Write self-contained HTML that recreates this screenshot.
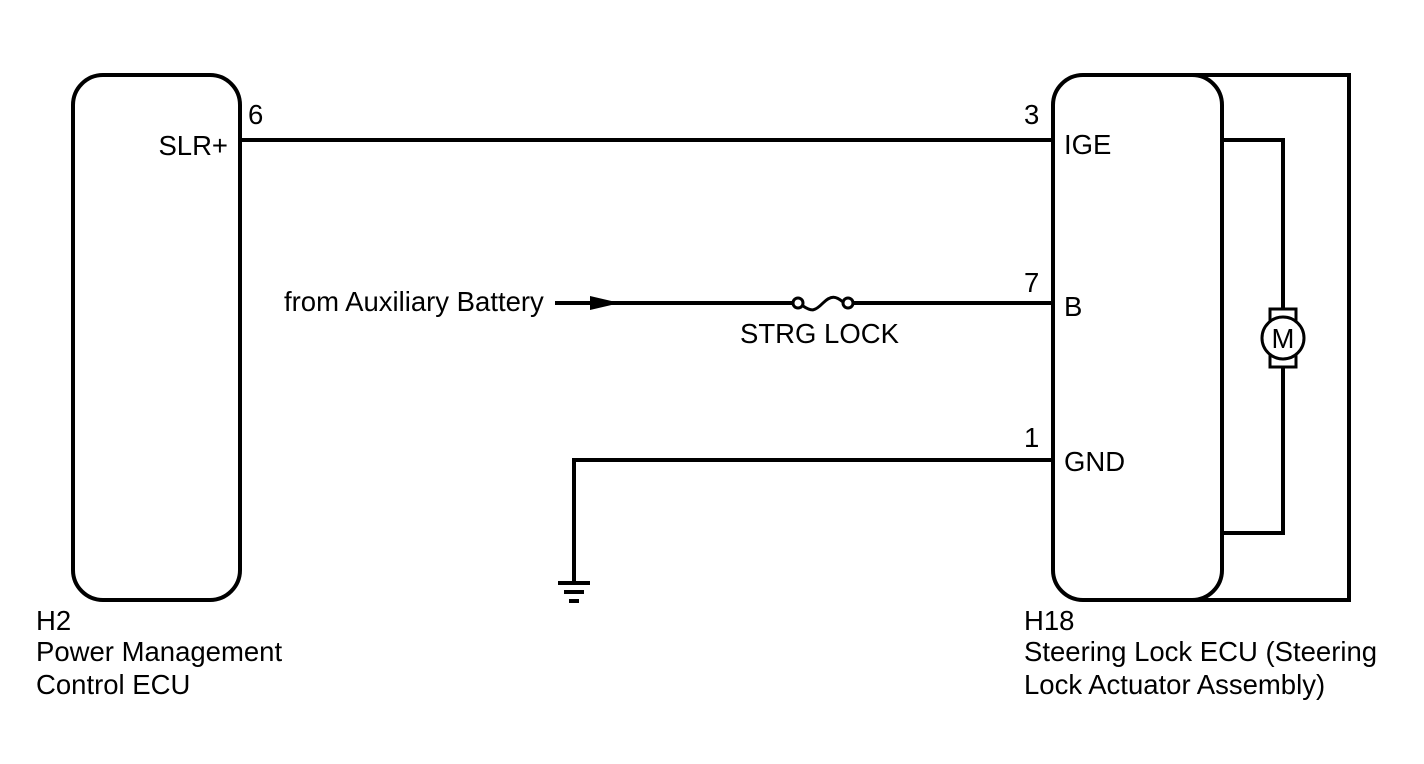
<!DOCTYPE html>
<html><head><style>
body{margin:0;background:#fff;}
svg text{font-family:"Liberation Sans",Arial,sans-serif;font-size:27.5px;fill:#000;}
</style></head><body>
<svg width="1424" height="759" viewBox="0 0 1424 759" xmlns="http://www.w3.org/2000/svg">
<g fill="none" stroke="#000" stroke-width="4">
<rect x="73" y="75" width="167" height="525" rx="30"/>
<rect x="1053" y="75" width="169" height="525" rx="30"/>
<polyline points="1190,75 1349,75 1349,600 1190,600"/>
<line x1="240" y1="140" x2="1053" y2="140"/>
<line x1="555" y1="303" x2="793" y2="303"/>
<line x1="853" y1="303" x2="1053" y2="303"/>
<circle cx="798" cy="303" r="5" stroke-width="3"/>
<circle cx="848" cy="303" r="5" stroke-width="3"/>
<path d="M803,306 C812,312 815,311 823,303 C831,295 836,296 843,302" stroke-width="3"/>
<polyline points="1053,460 574,460 574,583"/>
<polyline points="1222,140 1283,140 1283,308"/>
<polyline points="1222,533 1283,533 1283,368"/>
<rect x="1270" y="309" width="26" height="58" stroke-width="3" fill="#fff"/>
<circle cx="1283" cy="338" r="21" stroke-width="3" fill="#fff"/>
</g>
<polygon points="590,296 620,303 590,310" fill="#000"/>
<rect x="558" y="581" width="32" height="4" fill="#000"/>
<rect x="564" y="590" width="20" height="4" fill="#000"/>
<rect x="569" y="599" width="10" height="4" fill="#000"/>
<text x="1283" y="348" text-anchor="middle" font-size="28">M</text>
<text x="248" y="124">6</text>
<text x="228" y="155" text-anchor="end">SLR+</text>
<text x="1024" y="124">3</text>
<text x="1064" y="154">IGE</text>
<text x="1024" y="292">7</text>
<text x="1064" y="316">B</text>
<text x="1024" y="447">1</text>
<text x="1064" y="471">GND</text>
<text x="284" y="311">from Auxiliary Battery</text>
<text x="740" y="343">STRG LOCK</text>
<text x="36" y="630">H2</text>
<text x="36" y="661">Power Management</text>
<text x="36" y="694">Control ECU</text>
<text x="1024" y="630">H18</text>
<text x="1024" y="661">Steering Lock ECU (Steering</text>
<text x="1024" y="694">Lock Actuator Assembly)</text>
</svg>
</body></html>
